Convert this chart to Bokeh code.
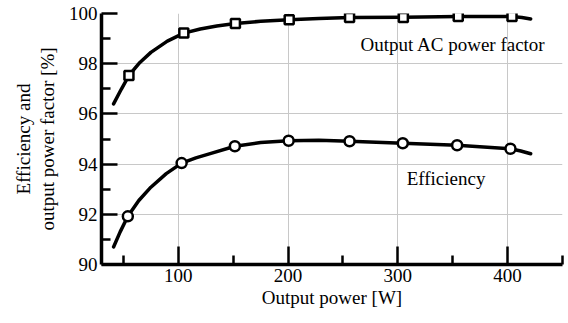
from bokeh.plotting import figure
from bokeh.models import FixedTicker, Label, LinearAxis, Grid
from bokeh.embed import file_html
from bokeh.resources import INLINE

# Marker data
pf_x = [55, 105, 152, 201, 256, 305, 355, 404]
pf_y = [97.53, 99.22, 99.60, 99.75, 99.84, 99.84, 99.88, 99.88]
eff_x = [54, 103, 151.5, 200.5, 256, 304.5, 354, 402.6]
eff_y = [91.92, 94.04, 94.71, 94.93, 94.91, 94.83, 94.75, 94.61]

# Fitted curves
pf_curve_x = [41, 48, 55, 65, 75, 90, 105, 120, 135, 152, 175, 201, 228, 256, 305, 355, 404, 413, 421]
pf_curve_y = [96.40, 96.98, 97.53, 98.05, 98.45, 98.90, 99.22, 99.38, 99.50, 99.60, 99.69, 99.75, 99.80, 99.84, 99.85, 99.88, 99.88, 99.84, 99.78]
eff_curve_x = [41, 47, 54, 64, 75, 89, 103, 116, 129, 151.5, 175, 200.5, 228, 256, 304.5, 354, 402.6, 412, 421]
eff_curve_y = [90.70, 91.30, 91.92, 92.55, 93.08, 93.62, 94.04, 94.25, 94.42, 94.71, 94.86, 94.93, 94.95, 94.91, 94.83, 94.75, 94.61, 94.52, 94.41]

x_major = [100, 200, 300, 400]
x_minor = [50, 150, 250, 350, 450]
y_major = [90, 92, 94, 96, 98, 100]
y_minor = [91, 93, 95, 97, 99]

FONT = "Liberation Serif"
FS = "19px"

p = figure(width=568, height=323, x_range=(30, 450), y_range=(90, 100),
           x_axis_type=None, y_axis_type=None,
           output_backend="svg", toolbar_location=None,
           min_border_left=101, min_border_right=6, min_border_top=13, min_border_bottom=59)
p.outline_line_color = None

xaxis = LinearAxis(ticker=FixedTicker(ticks=x_major, minor_ticks=x_minor),
                   axis_label="Output power [W]", axis_label_standoff=2,
                   axis_line_width=3.5, axis_line_color="black",
                   major_tick_in=18, minor_tick_in=9, major_tick_out=0, minor_tick_out=0,
                   major_tick_line_width=2.5, minor_tick_line_width=2.5,
                   major_tick_line_color="black", minor_tick_line_color="black",
                   major_label_text_font=FONT, major_label_text_font_size=FS,
                   major_label_text_color="black", major_label_standoff=4,
                   axis_label_text_font=FONT, axis_label_text_font_size=FS,
                   axis_label_text_font_style="normal", axis_label_text_color="black")
yaxis = LinearAxis(ticker=FixedTicker(ticks=y_major, minor_ticks=y_minor),
                   axis_label="output power factor [%]", axis_label_standoff=8,
                   axis_line_width=3.5, axis_line_color="black",
                   major_tick_in=16, minor_tick_in=9, major_tick_out=0, minor_tick_out=0,
                   major_tick_line_width=2.5, minor_tick_line_width=2.5,
                   major_tick_line_color="black", minor_tick_line_color="black",
                   major_label_text_font=FONT, major_label_text_font_size=FS,
                   major_label_text_color="black", major_label_standoff=4,
                   axis_label_text_font=FONT, axis_label_text_font_size=FS,
                   axis_label_text_font_style="normal", axis_label_text_color="black")
yaxis2 = LinearAxis(ticker=FixedTicker(ticks=[], minor_ticks=[]),
                    axis_label="Efficiency and", axis_label_standoff=0,
                    axis_line_color=None, major_tick_in=0, major_tick_out=0,
                    minor_tick_in=0, minor_tick_out=0, major_label_standoff=0,
                    major_label_text_font_size="0px",
                    axis_label_text_font=FONT, axis_label_text_font_size=FS,
                    axis_label_text_font_style="normal", axis_label_text_color="black")
p.add_layout(xaxis, "below")
p.add_layout(yaxis, "left")
p.add_layout(yaxis2, "left")

p.add_layout(Grid(dimension=0, ticker=FixedTicker(ticks=x_major), grid_line_color="#c8c8c8", grid_line_width=1))
p.add_layout(Grid(dimension=1, ticker=FixedTicker(ticks=y_major), grid_line_color="#c8c8c8", grid_line_width=1))

p.line(pf_curve_x, pf_curve_y, line_color="black", line_width=3.5, line_join="round", line_cap="round")
p.line(eff_curve_x, eff_curve_y, line_color="black", line_width=3.5, line_join="round", line_cap="round")
p.scatter(pf_x, pf_y, marker="square", size=9, fill_color="white", line_color="black", line_width=2.5)
p.scatter(eff_x, eff_y, marker="circle", size=10, fill_color="white", line_color="black", line_width=2.5)

p.add_layout(Label(x=266, y=98.78, text="Output AC power factor", text_font=FONT,
                   text_font_size=FS, text_color="black", text_baseline="alphabetic"))
p.add_layout(Label(x=308, y=93.42, text="Efficiency", text_font=FONT,
                   text_font_size=FS, text_color="black", text_baseline="alphabetic"))

open("out.html", "w").write(file_html(p, INLINE))
